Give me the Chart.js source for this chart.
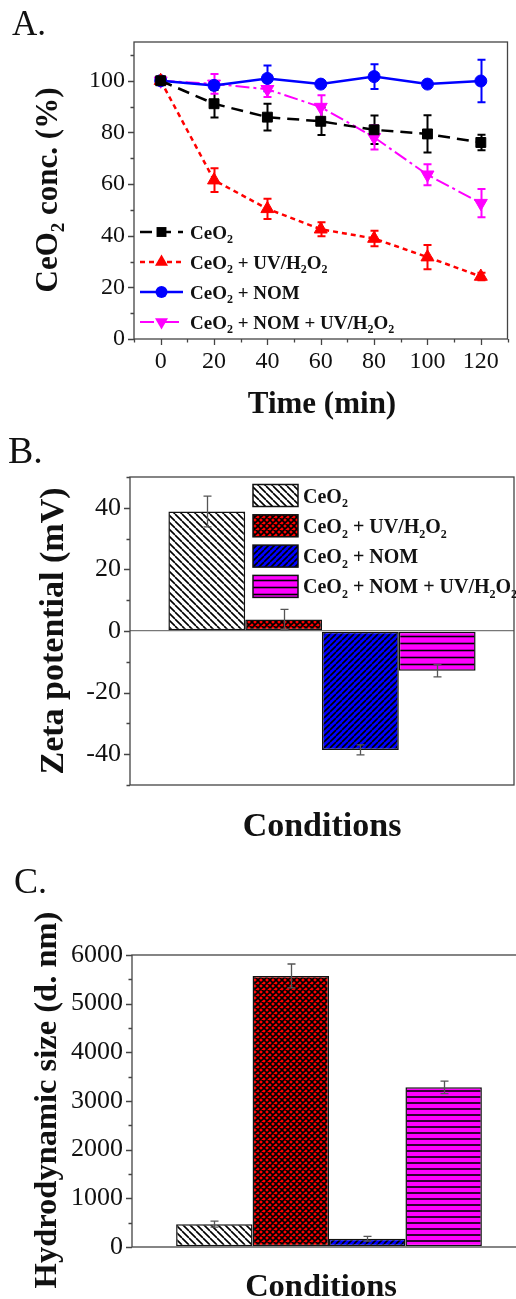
<!DOCTYPE html>
<html>
<head>
<meta charset="utf-8">
<script src="https://cdn.jsdelivr.net/npm/chart.js@4.4.1/dist/chart.umd.min.js"></script>
<style>
    html, body { margin: 0; padding: 0; background: #fff; overflow: hidden; width: 516px; height: 1299px; }
    .panel { position: absolute; left: 0; }
</style>
</head>
<body>
<canvas id="chartA" class="panel" style="top:0" width="516" height="430"></canvas>
<canvas id="chartB" class="panel" style="top:430px" width="516" height="430"></canvas>
<canvas id="chartC" class="panel" style="top:860px" width="530" height="439"></canvas>
<script>
// ---- data ----
// "_2" marks a subscript 2
const times = [0, 20, 40, 60, 80, 100, 120];
const ceo2 = [100, 91.1, 85.9, 84.3, 81.0, 79.4, 76.1];
const ceo2Err = [0, 5.3, 5.2, 5.3, 5.5, 7.2, 3.0];
const ceo2Uv = [100, 61.5, 50.4, 42.5, 38.9, 31.7, 24.2];
const ceo2UvErr = [1.5, 4.6, 3.9, 2.7, 3.0, 4.7, 1.5];
const ceo2Nom = [100, 98.2, 100.9, 98.7, 101.6, 98.7, 99.9];
const ceo2NomErr = [0, 1.0, 5.0, 0.5, 4.8, 0.5, 8.2];
const ceo2NomUv = [100, 98.8, 96.7, 89.8, 78.1, 63.6, 52.6];
const ceo2NomUvErr = [0, 3.8, 3.0, 4.6, 4.7, 4.1, 5.5];
const concTicks = [0, 20, 40, 60, 80, 100];

const conditions = ['CeO_2', 'CeO_2 + UV/H_2O_2', 'CeO_2 + NOM', 'CeO_2 + NOM + UV/H_2O_2'];
const zeta = [38.8, 3.7, -38.6, -12.9];
const zetaErr = [5.0, 3.3, 1.6, 2.0];
const zetaTicks = [-40, -20, 0, 20, 40];
const sizeNm = [470, 5570, 170, 3280];
const sizeErr = [60, 245, 50, 130];
const sizeTicks = [0, 1000, 2000, 3000, 4000, 5000, 6000];

const serif = '"Liberation Serif", "Times New Roman", serif';
Chart.defaults.font.family = serif;
Chart.defaults.color = '#111';

// draw text where "_x" is a subscript x
function drawRich(ctx, text, x, y, size, weight, align) {
    const parts = [];
    for (let i = 0; i < text.length; i++) {
        if (text[i] === '_') { parts.push({t: text[i + 1], sub: true}); i++; }
        else if (parts.length && !parts[parts.length - 1].sub) parts[parts.length - 1].t += text[i];
        else parts.push({t: text[i], sub: false});
    }
    const subSize = Math.round(size * 0.62);
    const font = s => `${weight} ${s}px ${serif}`;
    let total = 0;
    parts.forEach(p => { ctx.font = font(p.sub ? subSize : size); p.w = ctx.measureText(p.t).width; total += p.w; });
    let cx = align === 'center' ? x - total / 2 : x;
    ctx.textAlign = 'left';
    ctx.textBaseline = 'alphabetic';
    parts.forEach(p => {
        ctx.font = font(p.sub ? subSize : size);
        ctx.fillText(p.t, cx, p.sub ? y + size * 0.24 : y);
        cx += p.w;
    });
}

function drawMarker(ctx, style, x, y, r, rot, color) {
    ctx.save();
    ctx.fillStyle = color;
    ctx.translate(x, y);
    ctx.rotate(rot * Math.PI / 180);
    ctx.beginPath();
    if (style === 'rect') {
        const h = r * Math.SQRT1_2;
        ctx.rect(-h, -h, 2 * h, 2 * h);
    } else if (style === 'triangle') {
        const e = r * 3 / Math.sqrt(3), h = e * Math.sqrt(3) / 2;
        ctx.moveTo(-e / 2, h / 3); ctx.lineTo(e / 2, h / 3); ctx.lineTo(0, -2 * h / 3); ctx.closePath();
    } else {
        ctx.arc(0, 0, r, 0, Math.PI * 2);
    }
    ctx.fill();
    ctx.restore();
}

// hatch patterns for the bars
function hatch(ctx, kind, bg, s, lw) {
    const c = document.createElement('canvas');
    c.width = s; c.height = s;
    const g = c.getContext('2d');
    g.fillStyle = bg;
    g.fillRect(0, 0, s, s);
    g.strokeStyle = '#000';
    g.lineWidth = lw;
    g.beginPath();
    if (kind === 'back' || kind === 'cross') {
        for (const k of [-s, 0, s]) { g.moveTo(k, 0); g.lineTo(k + s, s); }
    }
    if (kind === 'fwd' || kind === 'cross') {
        for (const k of [-s, 0, s]) { g.moveTo(k, s); g.lineTo(k + s, 0); }
    }
    if (kind === 'horiz') { g.moveTo(0, s / 2); g.lineTo(s, s / 2); }
    g.stroke();
    return ctx.createPattern(c, 'repeat');
}

function fixedTicks(values) {
    return scale => { scale.ticks = values.map(v => ({value: v})); };
}

// box round the plot plus major / minor tick marks
const framePlugin = {
    id: 'frame',
    afterDraw(chart, args, opts) {
        const {ctx, chartArea: a, scales} = chart;
        ctx.save();
        ctx.strokeStyle = '#444';
        ctx.lineWidth = 1.3;
        ctx.strokeRect(a.left, a.top, a.right - a.left, a.bottom - a.top);
        ctx.beginPath();
        if (opts.yMinor) {
            const s = scales.y;
            for (let v = Math.ceil(s.min / opts.yMinor) * opts.yMinor; v <= s.max + 1e-9; v += opts.yMinor) {
                const major = Math.abs(v / opts.yMajor - Math.round(v / opts.yMajor)) < 1e-6;
                const py = Math.round(s.getPixelForValue(v)) + 0.5;
                ctx.moveTo(a.left - (major ? 6 : 3.5), py);
                ctx.lineTo(a.left, py);
            }
        }
        if (opts.xMinor) {
            const s = scales.x;
            for (let v = Math.ceil(s.min / opts.xMinor) * opts.xMinor; v <= s.max + 1e-9; v += opts.xMinor) {
                const major = Math.abs(v / opts.xMajor - Math.round(v / opts.xMajor)) < 1e-6;
                const px = Math.round(s.getPixelForValue(v)) + 0.5;
                ctx.moveTo(px, a.bottom);
                ctx.lineTo(px, a.bottom + (major ? 6 : 3.5));
            }
        }
        ctx.stroke();
        ctx.restore();
    }
};

// error bars from dataset.errors
const errorPlugin = {
    id: 'errors',
    beforeDatasetsDraw(chart, args, opts) {
        if (!opts.above) drawErrors(chart, opts);
    },
    afterDatasetsDraw(chart, args, opts) {
        if (opts.above) drawErrors(chart, opts);
    }
};
function drawErrors(chart, opts) {
    const {ctx} = chart;
    const ys = chart.scales.y;
    ctx.save();
    chart.data.datasets.forEach((ds, i) => {
        const meta = chart.getDatasetMeta(i);
        ctx.strokeStyle = opts.color || ds.borderColor;
        ctx.lineWidth = opts.width || 2;
        meta.data.forEach((el, j) => {
            const raw = ds.data[j];
            const v = typeof raw === 'object' ? raw.y : raw;
            const e = ds.errors[j];
            if (!e) return;
            const top = ys.getPixelForValue(v + e), bot = ys.getPixelForValue(v - e);
            const x = Math.round(el.x) + 0.5, c = opts.cap || 4;
            ctx.beginPath();
            ctx.moveTo(x, top); ctx.lineTo(x, bot);
            ctx.moveTo(x - c, top); ctx.lineTo(x + c, top);
            ctx.moveTo(x - c, bot); ctx.lineTo(x + c, bot);
            ctx.stroke();
        });
    });
    ctx.restore();
}

// panel letters and axis titles
const textPlugin = {
    id: 'texts',
    afterDraw(chart, args, opts) {
        const {ctx} = chart;
        ctx.save();
        ctx.fillStyle = '#111';
        (opts.items || []).forEach(it => {
            ctx.save();
            ctx.translate(it.x, it.y);
            if (it.rotate) ctx.rotate(it.rotate * Math.PI / 180);
            drawRich(ctx, it.text, 0, 0, it.size, it.weight || 'normal', it.align || 'left');
            ctx.restore();
        });
        ctx.restore();
    }
};

// legend with line + marker samples (panel A)
const lineLegendPlugin = {
    id: 'lineLegend',
    afterDraw(chart, args, opts) {
        if (!opts.x) return;
        const {ctx} = chart;
        ctx.save();
        chart.data.datasets.forEach((ds, i) => {
            const cy = opts.y + i * opts.rowH;
            ctx.strokeStyle = ds.borderColor;
            ctx.lineWidth = ds.borderWidth;
            ctx.setLineDash(ds.borderDash || []);
            ctx.beginPath();
            ctx.moveTo(opts.x, cy); ctx.lineTo(opts.x + opts.len, cy);
            ctx.stroke();
            ctx.setLineDash([]);
            drawMarker(ctx, ds.pointStyle, opts.x + opts.len / 2, cy, ds.pointRadius, ds.pointRotation || 0, ds.borderColor);
            ctx.fillStyle = '#111';
            drawRich(ctx, ds.label, opts.x + opts.len + 7, cy + 6.5, opts.size, 'bold', 'left');
        });
        ctx.restore();
    }
};

// legend with hatch patches (panel B)
const barLegendPlugin = {
    id: 'barLegend',
    afterDraw(chart, args, opts) {
        if (!opts.x) return;
        const {ctx} = chart;
        ctx.save();
        chart.data.datasets.forEach((ds, i) => {
            const cy = opts.y + i * opts.rowH;
            ctx.fillStyle = ds.backgroundColor;
            ctx.fillRect(opts.x, cy - 11, 45, 22);
            ctx.strokeStyle = '#111';
            ctx.lineWidth = 1.5;
            ctx.strokeRect(opts.x, cy - 11, 45, 22);
            ctx.fillStyle = '#111';
            drawRich(ctx, ds.label, opts.x + 50, cy + 7, opts.size, 'bold', 'left');
        });
        ctx.restore();
    }
};

const plugins = [framePlugin, errorPlugin, textPlugin, lineLegendPlugin, barLegendPlugin];

// ---------- A: concentration vs time ----------
function lineSeries(label, values, errors, color, dash, style, radius, rotation, width) {
    return {
        label: label,
        errors: errors,
        data: times.map((t, i) => ({x: t, y: values[i]})),
        borderColor: color,
        backgroundColor: color,
        borderWidth: width,
        borderDash: dash,
        pointStyle: style,
        pointRadius: radius,
        pointRotation: rotation,
        pointBackgroundColor: color,
        pointBorderColor: color,
        pointBorderWidth: 1,
        tension: 0,
        fill: false
    };
}

new Chart(document.getElementById('chartA'), {
    type: 'line',
    data: {
        datasets: [
            lineSeries('CeO_2', ceo2, ceo2Err, '#000000', [12, 7], 'rect', 7, 0, 2.5),
            lineSeries('CeO_2 + UV/H_2O_2', ceo2Uv, ceo2UvErr, '#ff0000', [5, 4], 'triangle', 7.5, 0, 2.5),
            lineSeries('CeO_2 + NOM', ceo2Nom, ceo2NomErr, '#0000ff', [], 'circle', 6, 0, 2.5),
            lineSeries('CeO_2 + NOM + UV/H_2O_2', ceo2NomUv, ceo2NomUvErr, '#ff00ff', [14, 4, 3, 4], 'triangle', 7.5, 180, 2)
        ]
    },
    options: {
        responsive: false,
        animation: false,
        layout: {padding: {top: 42, right: 6, left: 0, bottom: 0}},
        plugins: {
            legend: {display: false},
            tooltip: {enabled: false},
            frame: {xMajor: 20, xMinor: 10, yMajor: 20, yMinor: 10},
            errors: {width: 2, cap: 4},
            lineLegend: {x: 140, y: 232, rowH: 30, len: 43, size: 19},
            texts: {items: [
                {text: 'A.', x: 12, y: 35, size: 35},
                {text: 'CeO_2 conc. (%)', x: 57, y: 190, size: 31, weight: 'bold', align: 'center', rotate: -90},
                {text: 'Time (min)', x: 322, y: 413, size: 31, weight: 'bold', align: 'center'}
            ]}
        },
        scales: {
            x: {
                type: 'linear', min: -10, max: 130,
                afterBuildTicks: fixedTicks(times),
                afterFit: s => { s.height = 91; },
                grid: {display: false, drawTicks: false},
                border: {display: false},
                ticks: {font: {size: 24}, padding: 8, maxRotation: 0, autoSkip: false}
            },
            y: {
                min: 0, max: 115,
                afterBuildTicks: fixedTicks(concTicks),
                afterFit: s => { s.width = 134; },
                grid: {display: false, drawTicks: false},
                border: {display: false},
                ticks: {font: {size: 24}, padding: 9}
            }
        }
    },
    plugins: plugins
});

// ---------- B & C: bar charts ----------
function barChart(id, values, errors, tickValues, opts) {
    const canvas = document.getElementById(id);
    const ctx = canvas.getContext('2d');
    const fills = [
        hatch(ctx, 'back', '#ffffff', 7, 1.6),
        hatch(ctx, 'cross', '#ff0000', 6, 1.6),
        hatch(ctx, 'fwd', '#0000ff', 6, 1.6),
        hatch(ctx, 'horiz', '#ff00ff', opts.hStep, 1.6)
    ];
    return new Chart(canvas, {
        type: 'bar',
        data: {
            labels: [''],
            datasets: conditions.map((c, i) => ({
                label: c,
                data: [values[i]],
                errors: [errors[i]],
                backgroundColor: fills[i],
                borderColor: '#111',
                borderWidth: 1.5,
                borderSkipped: false
            }))
        },
        options: {
            responsive: false,
            animation: false,
            layout: {padding: {top: opts.top, right: opts.right, left: 0, bottom: 0}},
            datasets: {bar: {categoryPercentage: opts.catPct, barPercentage: 1}},
            plugins: {
                legend: {display: false},
                tooltip: {enabled: false},
                frame: {yMajor: opts.major, yMinor: opts.minor},
                errors: {color: '#555', width: 1.3, cap: 4, above: true},
                barLegend: opts.legend || {},
                texts: {items: opts.texts}
            },
            scales: {
                x: {
                    afterFit: s => { s.height = opts.xHeight; },
                    grid: {display: false, drawTicks: false},
                    border: {display: false},
                    ticks: {display: false}
                },
                y: {
                    min: opts.min, max: opts.max,
                    afterBuildTicks: fixedTicks(tickValues),
                    afterFit: s => { s.width = opts.left; },
                    grid: {
                        drawTicks: false,
                        lineWidth: 1.3,
                        color: c => (opts.zeroLine && c.tick && c.tick.value === 0) ? '#777' : 'rgba(0,0,0,0)'
                    },
                    border: {display: false},
                    ticks: {font: {size: 26}, padding: 9, callback: v => String(v)}
                }
            }
        },
        plugins: plugins
    });
}

barChart('chartB', zeta, zetaErr, zetaTicks, {
    top: 47, right: 2, left: 130, xHeight: 75, catPct: 0.8,
    min: -50, max: 50, major: 20, minor: 10, zeroLine: true, hStep: 7,
    legend: {x: 253, y: 65.5, rowH: 30.3, size: 20},
    texts: [
        {text: 'B.', x: 8, y: 33, size: 38},
        {text: 'Zeta potential (mV)', x: 63, y: 201, size: 34, weight: 'bold', align: 'center', rotate: -90},
        {text: 'Conditions', x: 322, y: 406, size: 34, weight: 'bold', align: 'center'}
    ]
});

barChart('chartC', sizeNm, sizeErr, sizeTicks, {
    top: 95, right: 4, left: 132, xHeight: 52, catPct: 0.776,
    min: 0, max: 6000, major: 1000, minor: 500, zeroLine: false, hStep: 6,
    texts: [
        {text: 'C.', x: 14, y: 33, size: 36},
        {text: 'Hydrodynamic size (d. nm)', x: 56, y: 240, size: 32.5, weight: 'bold', align: 'center', rotate: -90},
        {text: 'Conditions', x: 321, y: 436, size: 32.5, weight: 'bold', align: 'center'}
    ]
});
</script>
</body>
</html>
